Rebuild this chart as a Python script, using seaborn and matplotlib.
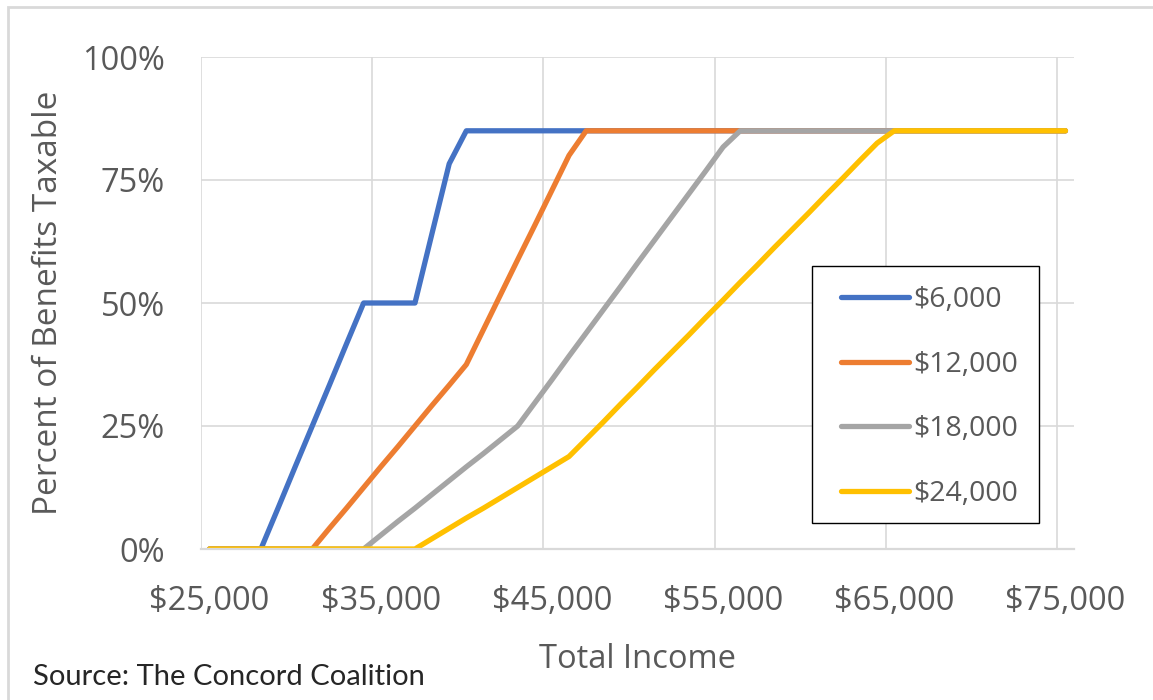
import matplotlib
matplotlib.use("Agg")
import matplotlib.pyplot as plt
from matplotlib.patches import Rectangle
from matplotlib.ticker import FixedLocator, FuncFormatter
import seaborn as sns
import pandas as pd

# ---- data ----
income = list(range(25000, 75001, 1000))  # categories, $1,000 steps
series_names = ["$6,000", "$12,000", "$18,000", "$24,000"]
pct_6000 = [0, 0, 0, 0, 8.3, 16.7, 25, 33.3, 41.7, 50, 50, 50, 50, 64.2, 78.3, 85,
            85, 85, 85, 85, 85, 85, 85, 85, 85, 85, 85, 85, 85, 85, 85, 85, 85, 85,
            85, 85, 85, 85, 85, 85, 85, 85, 85, 85, 85, 85, 85, 85, 85, 85, 85]
pct_12000 = [0, 0, 0, 0, 0, 0, 0, 4.2, 8.3, 12.5, 16.7, 20.8, 25, 29.2, 33.3, 37.5,
             44.6, 51.7, 58.8, 65.8, 72.9, 80, 85, 85, 85, 85, 85, 85, 85, 85, 85, 85,
             85, 85, 85, 85, 85, 85, 85, 85, 85, 85, 85, 85, 85, 85, 85, 85, 85, 85, 85]
pct_18000 = [0, 0, 0, 0, 0, 0, 0, 0, 0, 0, 2.8, 5.6, 8.3, 11.1, 13.9, 16.7, 19.4, 22.2,
             25, 29.7, 34.4, 39.2, 43.9, 48.6, 53.3, 58.1, 62.8, 67.5, 72.2, 76.9, 81.7,
             85, 85, 85, 85, 85, 85, 85, 85, 85, 85, 85, 85, 85, 85, 85, 85, 85, 85, 85, 85]
pct_24000 = [0, 0, 0, 0, 0, 0, 0, 0, 0, 0, 0, 0, 0, 2.1, 4.2, 6.3, 8.3, 10.4, 12.5, 14.6,
             16.7, 18.8, 22.3, 25.8, 29.4, 32.9, 36.5, 40, 43.5, 47.1, 50.6, 54.2, 57.7,
             61.3, 64.8, 68.3, 71.9, 75.4, 79, 82.5, 85, 85, 85, 85, 85, 85, 85, 85, 85, 85, 85]
y_ticks = [0, 25, 50, 75, 100]
x_label_ticks = [25000, 35000, 45000, 55000, 65000, 75000]

colors = ["#4472C4", "#ED7D31", "#A5A5A5", "#FFC000"]

rows = []
for name, vals in zip(series_names, [pct_6000, pct_12000, pct_18000, pct_24000]):
    for x, v in zip(income, vals):
        rows.append({"income": x, "pct": v, "series": name})
df = pd.DataFrame(rows)

sns.set_theme(style="white")
plt.rcParams["font.family"] = ["Open Sans", "DejaVu Sans"]
TXT = "#595959"

W, H = 1153, 700
fig = plt.figure(figsize=(W / 100, H / 100), dpi=100)
ax = fig.add_axes([201 / W, 151 / H, 873 / W, 492 / H])

sns.lineplot(data=df, x="income", y="pct", hue="series", hue_order=series_names,
             palette=dict(zip(series_names, colors)), linewidth=3.8, ax=ax,
             legend=True)
for ln in ax.get_lines():
    ln.set_solid_capstyle("round")
    ln.set_solid_joinstyle("round")

ax.set_xlim(24500, 75500)
ax.set_ylim(0, 100)

# gridlines on category boundaries, labels on category centres
ax.xaxis.set_major_locator(FixedLocator([24500, 34500, 44500, 54500, 64500, 74500]))
ax.xaxis.set_major_formatter(FuncFormatter(lambda v, p: ""))
ax.xaxis.set_minor_locator(FixedLocator(x_label_ticks))
ax.xaxis.set_minor_formatter(FuncFormatter(lambda v, p: f"${v:,.0f}"))
ax.set_yticks(y_ticks)
ax.set_yticklabels([f"{t}%" for t in y_ticks])

ax.grid(True, which="major", color="#D9D9D9", linewidth=1.2)
ax.set_axisbelow(True)
ax.tick_params(axis="x", which="both", length=0, labelsize=23.5, labelcolor=TXT, pad=26)
ax.tick_params(axis="y", which="both", length=0, labelsize=23.5, labelcolor=TXT, pad=26)

for s in ["top", "right", "left"]:
    ax.spines[s].set_visible(False)
ax.spines["bottom"].set_color("#D9D9D9")
ax.spines["bottom"].set_linewidth(1.6)

ax.set_xlabel("Total Income", fontsize=23.5, color=TXT, labelpad=18)
ax.set_ylabel("Percent of Benefits Taxable", fontsize=24, color=TXT, labelpad=12)

# legend box
box = Rectangle(((812 - 201) / 873, (549 - 523) / 492), 227 / 873, 257 / 492,
                transform=ax.transAxes, facecolor="white", edgecolor="black",
                linewidth=1.0, zorder=5)
ax.add_patch(box)
handles, labels = ax.get_legend_handles_labels()
leg = ax.legend(handles, labels, loc="upper left",
                bbox_to_anchor=((841 - 201) / 873, (549 - 286) / 492),
                frameon=False, fontsize=20.5, handlelength=2.38, handletextpad=0.15,
                labelspacing=1.29, borderpad=0, borderaxespad=0)
leg.set_zorder(6)
for t in leg.get_texts():
    t.set_color(TXT)
for ln in leg.get_lines():
    ln.set_linewidth(3.8)
    ln.set_solid_capstyle("round")

# outer chart border (cropped on right/bottom)
fig.patches.append(Rectangle((7.5 / W, -0.05), 1.2, 1.05 - 7.5 / H,
                             transform=fig.transFigure, fill=False,
                             edgecolor="#D9D9D9", linewidth=2.0))

fig.text(33 / W, (H - 677) / H, "Source: The Concord Coalition", fontsize=21,
         color="#262626", va="center", ha="left", family=["Lato", "DejaVu Sans"])

fig.savefig("out.png", dpi=100)
